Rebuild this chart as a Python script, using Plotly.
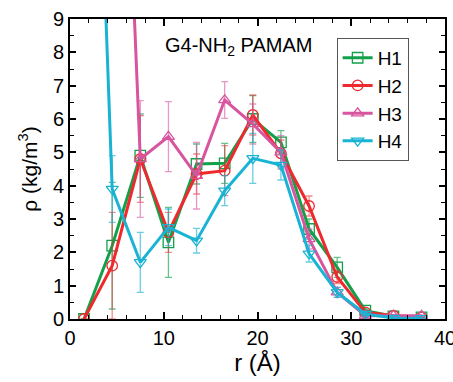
import plotly.graph_objects as go

r = [1.5, 4.5, 7.5, 10.5, 13.5, 16.5, 19.5, 22.5, 25.5, 28.5, 31.5, 34.5, 37.5]

h1 = [0.0, 2.2, 4.9, 2.3, 4.65, 4.67, 6.0, 5.3, 2.7, 1.55, 0.25, 0.08, 0.05]
h1_err = [0.0, 1.9, 1.25, 1.05, 0.6, 0.6, 0.7, 0.35, 0.3, 0.3, 0.05, 0.03, 0.02]

h2 = [0.0, 1.6, 4.8, 2.6, 4.35, 4.45, 6.12, 4.97, 3.39, 1.26, 0.2, 0.1, 0.05]
h2_err = [0.0, 1.6, 1.3, 0.6, 0.6, 0.75, 0.6, 0.4, 0.3, 0.2, 0.05, 0.03, 0.02]

h3 = [30.0, 25.0, 4.8, 5.47, 4.3, 6.57, 5.85, 5.0, 2.4, 0.8, 0.1, 0.1, 0.1]
h3_err = [0.0, 0.0, 1.75, 1.05, 1.0, 0.55, 0.6, 0.5, 0.3, 0.15, 0.05, 0.03, 0.02]

h4 = [27.0, 3.9, 1.7, 2.75, 2.35, 3.85, 4.82, 4.62, 1.96, 0.8, 0.15, 0.03, 0.02]
h4_err = [0.0, 1.0, 0.9, 0.55, 0.37, 0.45, 0.75, 0.45, 0.25, 0.15, 0.05, 0.02, 0.01]

names = ["H1", "H2", "H3", "H4"]
series = [h1, h2, h3, h4]
errors = [h1_err, h2_err, h3_err, h4_err]
colors = ["#12a14a", "#ee2a2e", "#d9549f", "#19b3d3"]
err_colors = ["rgba(18,161,74,0.65)", "rgba(238,42,46,0.55)",
              "rgba(217,84,159,0.6)", "rgba(25,179,211,0.65)"]
symbols = ["square-open", "circle-open", "triangle-up-open", "triangle-down-open"]

fig = go.Figure()
for name, y, e, c, ec, s in zip(names, series, errors, colors, err_colors, symbols):
    fig.add_trace(go.Scatter(
        x=r, y=y, name=name, mode="lines+markers",
        line=dict(color=c, width=3),
        marker=dict(symbol=s, size=10.5, color=c, line=dict(width=1.3, color=c)),
        error_y=dict(type="data", array=e, visible=True, color=ec,
                     thickness=1.3, width=3.5),
        cliponaxis=True,
    ))

font_family = "Liberation Sans, Arial, sans-serif"

fig.add_annotation(
    x=0.248, y=0.907, xref="paper", yref="paper", xanchor="left", yanchor="middle",
    text="G4-NH<sub>2</sub> PAMAM", showarrow=False,
    font=dict(family=font_family, size=20, color="black"),
)

fig.update_layout(
    width=453, height=382,
    margin=dict(l=70, r=8, t=19, b=63),
    paper_bgcolor="white", plot_bgcolor="white",
    font=dict(family=font_family, color="black"),
    showlegend=True,
    legend=dict(
        x=0.711, y=0.937, xanchor="left", yanchor="top",
        bordercolor="#555555", borderwidth=1, bgcolor="white",
        font=dict(family=font_family, size=19, color="black"),
        itemwidth=30, tracegroupgap=0,
    ),
    xaxis=dict(
        range=[0, 40], dtick=10, tick0=0, automargin=False,
        ticklabeloverflow="allow",
        showline=True, linecolor="black", linewidth=2, mirror="allticks",
        ticks="inside", ticklen=7, tickwidth=1.5, tickcolor="black",
        minor=dict(ticks="inside", dtick=2, ticklen=4, tickwidth=1.2, tickcolor="black"),
        showgrid=False, zeroline=False,
        tickfont=dict(family=font_family, size=20, color="black"),
        title=dict(text="r (Å)", font=dict(family=font_family, size=24, color="black"),
                   standoff=4),
    ),
    yaxis=dict(
        range=[0, 9], dtick=1, tick0=0, automargin=False,
        ticklabeloverflow="allow",
        showline=True, linecolor="black", linewidth=2, mirror="allticks",
        ticks="inside", ticklen=6, tickwidth=1.5, tickcolor="black",
        minor=dict(ticks="inside", dtick=0.5, ticklen=4, tickwidth=1.2, tickcolor="black"),
        showgrid=False, zeroline=False,
        tickfont=dict(family=font_family, size=20, color="black"),
        title=dict(text="ρ (kg/m<sup>3</sup>)", font=dict(family=font_family, size=21, color="black"),
                   standoff=10),
    ),
)

fig.write_html(
    "out.html",
    config={"displayModeBar": False},
    post_script="document.body.style.margin='0px';document.body.style.overflow='hidden';",
)
